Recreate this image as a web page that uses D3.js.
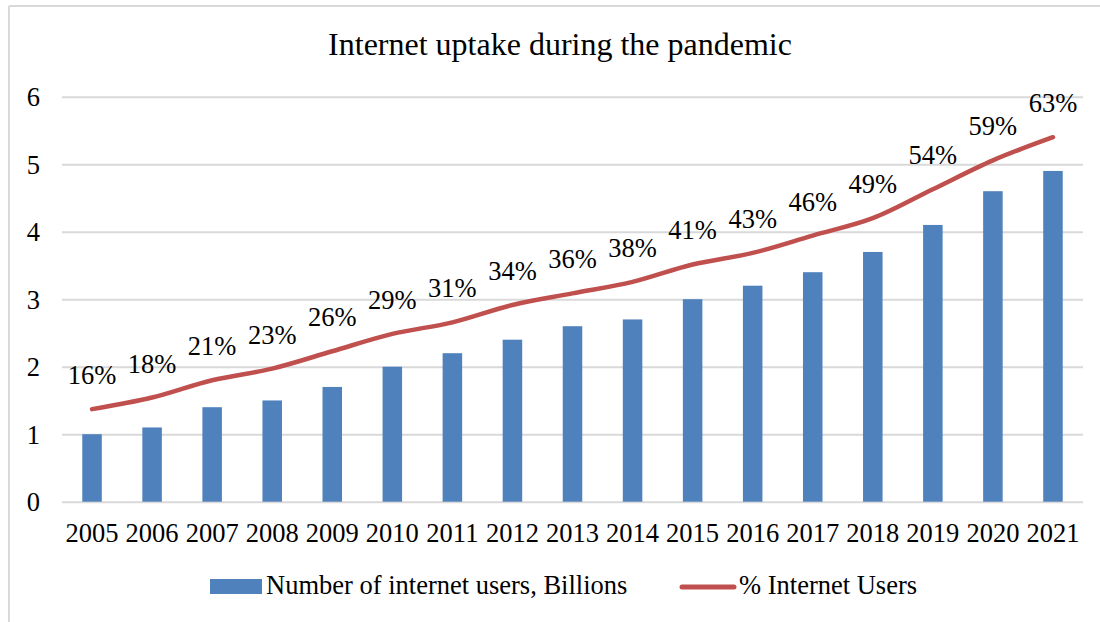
<!DOCTYPE html>
<html>
<head>
<meta charset="utf-8">
<script src="https://cdn.jsdelivr.net/npm/d3@7"></script>
<style>
  html, body { margin: 0; padding: 0; background: #fff; }
  svg text { font-family: "Liberation Serif", "Times New Roman", serif; fill: #000; }
</style>
</head>
<body>
<svg id="chart" width="1100" height="622"></svg>
<script>
// Years on the category axis
const years = ["2005","2006","2007","2008","2009","2010","2011","2012","2013",
               "2014","2015","2016","2017","2018","2019","2020","2021"];
// Number of internet users, billions (bars, primary axis)
const usersBillions = [1.0, 1.1, 1.4, 1.5, 1.7, 2.0, 2.2, 2.4, 2.6,
                       2.7, 3.0, 3.2, 3.4, 3.7, 4.1, 4.6, 4.9];
// Share of population online, percent (line, secondary axis)
const pctUsers = [16, 18, 21, 23, 26, 29, 31, 34, 36,
                  38, 41, 43, 46, 49, 54, 59, 63];
// Primary axis tick labels
const yTicks = [0, 1, 2, 3, 4, 5, 6];

const title = "Internet uptake during the pandemic";
const barName = "Number of internet users, Billions";
const lineName = "% Internet Users";

const FONT = "'Liberation Serif', 'Times New Roman', serif";
const LABEL_SIZE = "26.5px";

const svg = d3.select("#chart");
const W = 1100, H = 622;
const plot = { left: 62, right: 1083, top: 96.7, bottom: 501.7 };

const BLUE = "#4F81BD", RED = "#C0504D", GRID = "#D9D9D9";

// chart frame (left and top edges visible)
svg.append("line").attr("x1", 9).attr("x2", 9).attr("y1", 6).attr("y2", H)
  .attr("stroke", GRID).attr("stroke-width", 2);
svg.append("line").attr("x1", 9).attr("x2", W).attr("y1", 6).attr("y2", 6)
  .attr("stroke", GRID).attr("stroke-width", 2);

const x = d3.scaleBand().domain(years).range([plot.left, plot.right]).paddingInner(0.675).paddingOuter(0.3375);
const y = d3.scaleLinear().domain([0, 6]).range([plot.bottom, plot.top]);
// hidden secondary axis for the percentage line
const y2 = d3.scaleLinear().domain([0, 70]).range([plot.bottom, plot.top]);

// gridlines + tick labels via axis
const yAxis = svg.append("g")
  .attr("transform", `translate(${plot.left},0)`)
  .call(d3.axisLeft(y).tickValues(yTicks).tickSize(-(plot.right - plot.left)).tickFormat(d3.format("d")));
yAxis.select(".domain").remove();
yAxis.selectAll(".tick line").attr("stroke", GRID).attr("stroke-width", 2);
yAxis.selectAll(".tick text")
  .attr("x", -22).attr("dy", "0.34em")
  .style("font-size", LABEL_SIZE).style("font-family", FONT).attr("fill", "#000");

// bars
svg.append("g").selectAll("rect").data(years).join("rect")
  .attr("x", d => x(d))
  .attr("width", x.bandwidth())
  .attr("y", (d, i) => y(usersBillions[i]))
  .attr("height", (d, i) => y(0) - y(usersBillions[i]))
  .attr("fill", BLUE);

// x axis labels
const xAxis = svg.append("g")
  .attr("transform", `translate(0,${plot.bottom})`)
  .call(d3.axisBottom(x).tickSize(0).tickPadding(0));
xAxis.select(".domain").remove();
xAxis.selectAll(".tick text")
  .attr("y", 40).attr("dy", 0)
  .style("font-size", LABEL_SIZE).style("font-family", FONT).attr("fill", "#000");

// percentage line
const cx = i => x(years[i]) + x.bandwidth() / 2;
const line = d3.line()
  .x((d, i) => cx(i))
  .y(d => y2(d))
  .curve(d3.curveCatmullRom.alpha(0.5));
svg.append("path").datum(pctUsers)
  .attr("d", line)
  .attr("fill", "none").attr("stroke", RED).attr("stroke-width", 4.5)
  .attr("stroke-linecap", "round").attr("stroke-linejoin", "round");

// data labels above the line
svg.append("g").selectAll("text").data(pctUsers).join("text")
  .attr("x", (d, i) => cx(i))
  .attr("y", d => y2(d) - 25)
  .attr("text-anchor", "middle")
  .style("font-family", FONT)
  .style("font-size", LABEL_SIZE)
  .text(d => d + "%");

// title
svg.append("text")
  .attr("x", 560).attr("y", 55)
  .attr("text-anchor", "middle")
  .style("font-family", FONT)
  .style("font-size", "32px")
  .text(title);

// legend
const lg = svg.append("g").style("font-family", FONT);
lg.append("rect").attr("x", 210).attr("y", 579).attr("width", 52).attr("height", 15).attr("fill", BLUE);
lg.append("text").attr("x", 266).attr("y", 594).style("font-size", LABEL_SIZE).text(barName);
lg.append("line").attr("x1", 682).attr("x2", 734).attr("y1", 587).attr("y2", 587)
  .attr("stroke", RED).attr("stroke-width", 5).attr("stroke-linecap", "round");
lg.append("text").attr("x", 739).attr("y", 594).style("font-size", LABEL_SIZE).text(lineName);
</script>
</body>
</html>
